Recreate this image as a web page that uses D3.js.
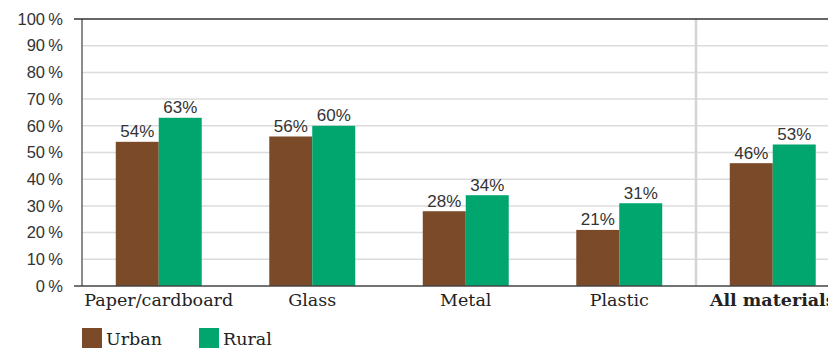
<!DOCTYPE html>
<html>
<head>
<meta charset="utf-8">
<script src="https://cdn.jsdelivr.net/npm/d3@7"></script>
<style>
  html, body { margin: 0; padding: 0; background: #fff; }
  svg { display: block; }
</style>
</head>
<body>
<svg id="chart" width="828" height="349"></svg>
<script>
// Recycling rate by material, urban vs rural households
const categories = ["Paper/cardboard", "Glass", "Metal", "Plastic", "All materials"];
const seriesNames = ["Urban", "Rural"];
const urbanValues = [54, 56, 28, 21, 46];
const ruralValues = [63, 60, 34, 31, 53];
const yTicks = [0, 10, 20, 30, 40, 50, 60, 70, 80, 90, 100];
const seriesColors = ["#7b4a28", "#00a66e"];

const svg = d3.select("#chart");
const W = 828, H = 349;
const plotLeft = 82, plotTop = 19, plotBottom = 286;

const x = d3.scaleBand()
  .domain(categories)
  .range([plotLeft, plotLeft + 5 * 153.5])
  .paddingInner(0.44)
  .paddingOuter(0.22);

const xs = d3.scaleBand().domain(seriesNames).range([0, x.bandwidth()]);

const y = d3.scaleLinear().domain([0, 100]).range([plotBottom, plotTop]);

const sansFont = "'Liberation Sans', Arial, sans-serif";
const serifFont = "'DejaVu Serif', serif";

// horizontal gridlines
svg.append("g").selectAll("line")
  .data(yTicks.filter(t => t > 0 && t < 100))
  .join("line")
  .attr("x1", plotLeft).attr("x2", W)
  .attr("y1", d => y(d)).attr("y2", d => y(d))
  .attr("stroke", "#dcdcdc").attr("stroke-width", 1.5);

// separator before the total group
const sepX = x("Plastic") + x.bandwidth() + x.step() * x.paddingInner() / 2;
svg.append("line")
  .attr("x1", sepX).attr("x2", sepX)
  .attr("y1", plotTop).attr("y2", plotBottom)
  .attr("stroke", "#d4d4d4").attr("stroke-width", 2.5);

// y axis tick labels
const yAxis = d3.axisLeft(y).tickValues(yTicks).tickSize(0).tickPadding(19)
  .tickFormat(d => d + "\u2009%");
const gy = svg.append("g").attr("transform", `translate(${plotLeft},0)`).call(yAxis);
gy.select(".domain").remove();
gy.selectAll("text")
  .attr("font-family", sansFont).attr("font-size", 16.5).attr("fill", "#333");

// bars
const rows = categories.map((c, i) => ({ cat: c, vals: [urbanValues[i], ruralValues[i]] }));
const groups = svg.append("g").selectAll("g")
  .data(rows).join("g")
  .attr("transform", d => `translate(${x(d.cat)},0)`);

groups.selectAll("rect")
  .data(d => d.vals.map((v, j) => ({ key: seriesNames[j], v, j })))
  .join("rect")
  .attr("x", d => xs(d.key))
  .attr("y", d => y(d.v))
  .attr("width", xs.bandwidth())
  .attr("height", d => y(0) - y(d.v))
  .attr("fill", d => seriesColors[d.j]);

groups.selectAll("text.val")
  .data(d => d.vals.map((v, j) => ({ key: seriesNames[j], v, j })))
  .join("text")
  .attr("class", "val")
  .attr("x", d => xs(d.key) + xs.bandwidth() / 2)
  .attr("y", d => y(d.v) - 4.5)
  .attr("text-anchor", "middle")
  .attr("font-family", sansFont).attr("font-size", 17)
  .attr("fill", "#333")
  .text(d => d.v + "%");

// axis frame lines
svg.append("line").attr("x1", plotLeft).attr("x2", plotLeft).attr("y1", plotTop).attr("y2", plotBottom)
  .attr("stroke", "#666").attr("stroke-width", 1.5);
svg.append("line").attr("x1", 74).attr("x2", W).attr("y1", plotTop).attr("y2", plotTop)
  .attr("stroke", "#333").attr("stroke-width", 1.5);
svg.append("line").attr("x1", 74).attr("x2", W).attr("y1", plotBottom).attr("y2", plotBottom)
  .attr("stroke", "#444").attr("stroke-width", 1.5);

// category labels
svg.append("g").selectAll("text")
  .data(categories).join("text")
  .attr("x", d => x(d) + x.bandwidth() / 2)
  .attr("y", 306)
  .attr("text-anchor", "middle")
  .attr("font-family", serifFont).attr("font-size", 17.5)
  .attr("font-weight", d => d === "All materials" ? "bold" : "normal")
  .attr("fill", "#222")
  .text(d => d);

// legend
const legend = svg.append("g").attr("transform", "translate(82,328)");
const legendX = [0, 117];
seriesNames.forEach((s, i) => {
  legend.append("rect").attr("x", legendX[i]).attr("y", 0)
    .attr("width", 20).attr("height", 20).attr("fill", seriesColors[i]);
  legend.append("text").attr("x", legendX[i] + 24).attr("y", 17)
    .attr("font-family", serifFont).attr("font-size", 17.5).attr("fill", "#222")
    .text(s);
});
</script>
</body>
</html>
